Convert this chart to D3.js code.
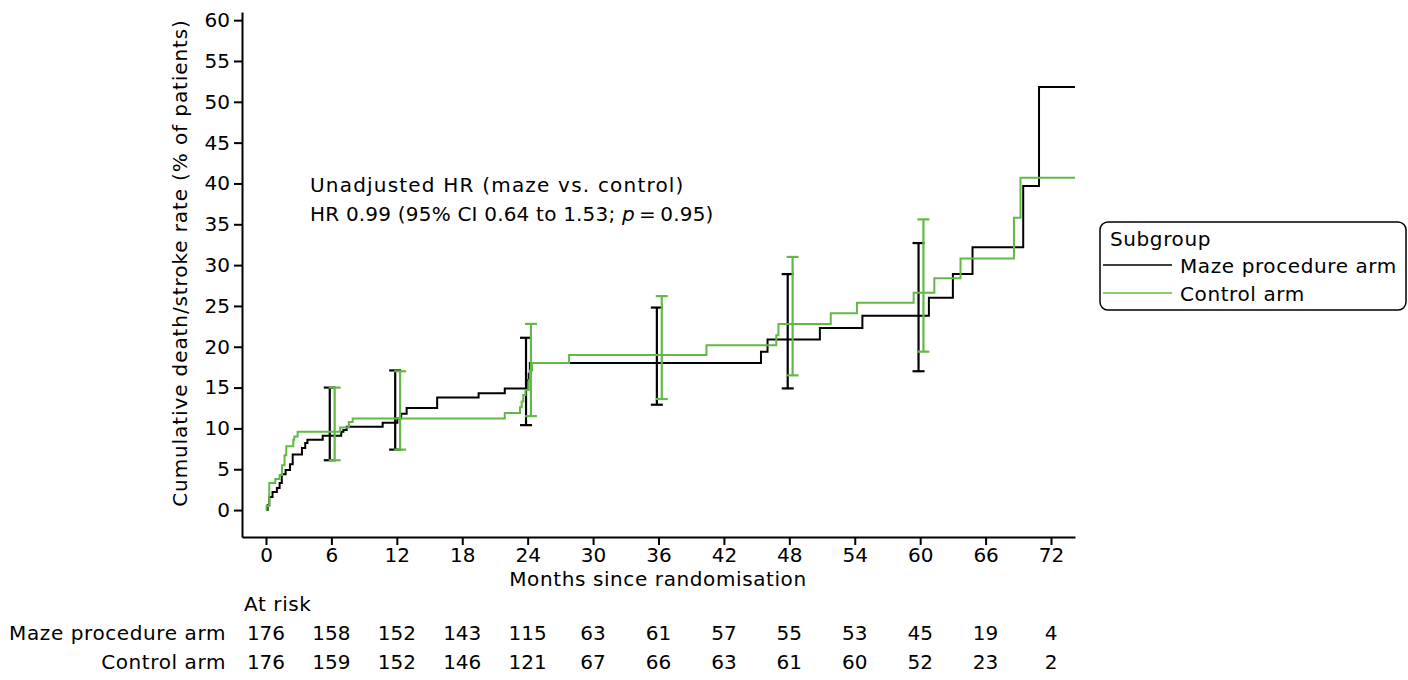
<!DOCTYPE html>
<html>
<head>
<meta charset="utf-8">
<script src="https://cdn.jsdelivr.net/npm/d3@7"></script>
<style>
  body { margin: 0; background: #fff; }
  svg { font-family: "DejaVu Sans", sans-serif; }
</style>
</head>
<body>
<script>
// step data: [month, cumulative %] (value after the step)
const mazeSteps = [
  [0,0],[0.15,0.6],[0.3,1.6],[0.6,2.2],[1.0,2.7],[1.25,3.3],[1.45,4.4],[1.8,4.9],
  [2.2,5.6],[2.45,6.8],[3.3,7.6],[3.6,8.2],[3.8,8.6],[5.2,9.1],[6.9,9.6],[7.1,9.8],
  [7.4,10.2],[10.7,10.7],[12.05,11.2],[12.4,11.8],[12.9,12.5],[15.7,13.8],[19.5,14.3],
  [21.9,14.9],[23.9,15.9],[24.1,16.7],[24.2,18.0],[45.4,19.4],[46.0,20.9],[50.8,22.3],
  [54.7,23.8],[60.8,26.0],[63.0,28.9],[64.8,32.2],[69.45,39.7],[70.9,51.8]
]
const controlSteps = [
  [0,0],[0.05,0.5],[0.3,3.3],[0.85,3.8],[1.25,4.3],[1.47,5.5],[1.7,6.7],[1.86,7.8],
  [2.5,8.6],[2.6,9.0],[2.9,9.6],[6.8,10.1],[7.6,10.8],[7.95,11.2],[21.9,11.9],
  [23.3,12.6],[23.45,13.3],[23.6,14.1],[23.8,14.7],[24.1,15.9],[24.2,17.1],[24.4,18.0],
  [27.8,19.0],[40.4,20.2],[46.8,21.4],[47.0,22.8],[51.8,24.1],[54.2,25.4],[59.4,26.6],
  [61.3,28.4],[63.7,30.8],[68.6,35.8],[69.2,40.7]
]

// confidence intervals at selected months
const ciMonths = [6, 12, 24, 36, 48, 60]
const mazeLower = [6.1, 7.4, 10.4, 12.9, 14.9, 17.0]
const mazeUpper = [15.0, 17.1, 21.1, 24.8, 28.9, 32.7]
const controlLower = [6.1, 7.4, 11.5, 13.6, 16.5, 19.4]
const controlUpper = [15.0, 17.0, 22.8, 26.2, 31.0, 35.6]

// numbers at risk
const riskMonths = [0, 6, 12, 18, 24, 30, 36, 42, 48, 54, 60, 66, 72]
const mazeRisk = [176, 158, 152, 143, 115, 63, 61, 57, 55, 53, 45, 19, 4]
const controlRisk = [176, 159, 152, 146, 121, 67, 66, 63, 61, 60, 52, 23, 2]

const xTicks = [0, 6, 12, 18, 24, 30, 36, 42, 48, 54, 60, 66, 72]
const yTicks = [0, 5, 10, 15, 20, 25, 30, 35, 40, 45, 50, 55, 60]

const width = 1408
const height = 680
const green = '#62b946'
const xMax = 74.2
const fs = 20

let svg = d3.select('body').append('svg')
  .attr('width', width)
  .attr('height', height)

const x = d3.scaleLinear().domain([-2.2, xMax]).range([242, 1075])
const y = d3.scaleLinear().domain([-3.3, 61]).range([537, 12])

// axes
svg.append('g')
  .attr('transform', 'translate(0,537)')
  .call(d3.axisBottom(x).tickValues(xTicks).tickSize(8).tickSizeOuter(0).tickPadding(3))
svg.append('g')
  .attr('transform', 'translate(242,0)')
  .call(d3.axisLeft(y).tickValues(yTicks).tickSize(8).tickSizeOuter(0).tickPadding(4))

svg.selectAll('.domain, .tick line')
  .attr('stroke', '#000')
  .attr('stroke-width', 2)
svg.selectAll('.tick text')
  .attr('font-size', fs)
  .attr('fill', '#000')
  .attr('font-family', '"DejaVu Sans", sans-serif')

svg.append('text')
  .attr('x', 658).attr('y', 586)
  .attr('text-anchor', 'middle')
  .attr('font-size', fs)
  .attr('letter-spacing', 0.6)
  .text('Months since randomisation')

svg.append('text')
  .attr('transform', 'translate(187,263) rotate(-90)')
  .attr('text-anchor', 'middle')
  .attr('font-size', fs)
  .attr('letter-spacing', 0.9)
  .text('Cumulative death/stroke rate (% of patients)')

// step curves
const line = d3.line()
  .x(d => x(d[0]))
  .y(d => y(d[1]))
  .curve(d3.curveStepAfter)

const drawCurve = (steps, color) => {
  let pts = steps.concat([[xMax, steps[steps.length - 1][1]]])
  svg.append('path')
    .datum(pts)
    .attr('d', line)
    .attr('fill', 'none')
    .attr('stroke', color)
    .attr('stroke-width', 2)
}

// error bars
const drawBars = (lower, upper, shift, color) => {
  let g = svg.append('g')
    .attr('stroke', color)
    .attr('stroke-width', 2.2)
  ciMonths.forEach((m, i) => {
    let cx = x(m + shift)
    g.append('line')
      .attr('x1', cx).attr('x2', cx)
      .attr('y1', y(lower[i])).attr('y2', y(upper[i]))
    g.append('line')
      .attr('x1', cx - 6).attr('x2', cx + 6)
      .attr('y1', y(lower[i])).attr('y2', y(lower[i]))
    g.append('line')
      .attr('x1', cx - 6).attr('x2', cx + 6)
      .attr('y1', y(upper[i])).attr('y2', y(upper[i]))
  })
}

drawCurve(mazeSteps, '#000')
drawBars(mazeLower, mazeUpper, -0.15, '#000')
drawCurve(controlSteps, green)
drawBars(controlLower, controlUpper, 0.3, green)

// annotation
svg.append('text')
  .attr('x', 310).attr('y', 192)
  .attr('font-size', fs)
  .attr('letter-spacing', 1.2)
  .text('Unadjusted HR (maze vs. control)')
let t2 = svg.append('text')
  .attr('x', 310).attr('y', 221)
  .attr('font-size', fs)
  .attr('letter-spacing', 0.2)
t2.append('tspan').text('HR 0.99 (95% CI 0.64 to 1.53; ')
t2.append('tspan').attr('font-style', 'italic').text('p')
t2.append('tspan').text('\u2009=\u20090.95)')

// legend
const leg = svg.append('g')
leg.append('rect')
  .attr('x', 1100).attr('y', 222)
  .attr('width', 306).attr('height', 88)
  .attr('rx', 8)
  .attr('fill', 'none')
  .attr('stroke', '#000')
  .attr('stroke-width', 1.5)
leg.append('text')
  .attr('x', 1110).attr('y', 246)
  .attr('font-size', fs)
  .attr('letter-spacing', 0.6)
  .text('Subgroup')
const legItems = [['Maze procedure arm', '#000'], ['Control arm', green]]
legItems.forEach((d, i) => {
  let ly = 265 + i * 28
  leg.append('line')
    .attr('x1', 1103).attr('x2', 1172)
    .attr('y1', ly).attr('y2', ly)
    .attr('stroke', d[1])
    .attr('stroke-width', 1.5)
  leg.append('text')
    .attr('x', 1180).attr('y', ly + 8)
    .attr('font-size', fs)
    .attr('letter-spacing', 0.6)
    .text(d[0])
})

// at-risk table
svg.append('text')
  .attr('x', 244).attr('y', 611)
  .attr('font-size', fs)
  .attr('letter-spacing', 0.6)
  .text('At risk')

const riskRows = [['Maze procedure arm', mazeRisk], ['Control arm', controlRisk]]
riskRows.forEach((row, r) => {
  let ry = 640 + r * 29
  svg.append('text')
    .attr('x', 226).attr('y', ry)
    .attr('text-anchor', 'end')
    .attr('font-size', fs)
    .attr('letter-spacing', 0.6)
    .text(row[0])
  svg.append('g')
    .selectAll('text')
    .data(row[1])
    .enter()
    .append('text')
    .attr('x', (d, i) => x(riskMonths[i]))
    .attr('y', ry)
    .attr('text-anchor', 'middle')
    .attr('font-size', fs)
    .text(d => d)
})
</script>
</body>
</html>
